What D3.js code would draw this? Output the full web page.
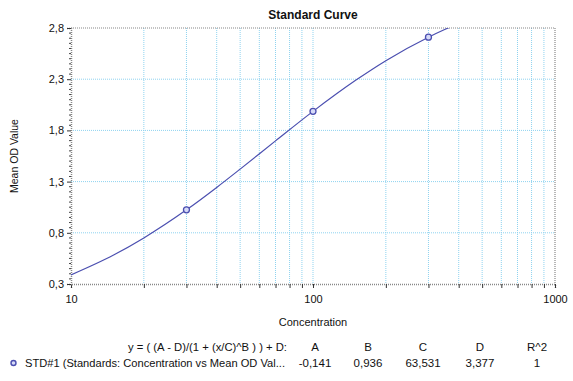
<!DOCTYPE html>
<html><head><meta charset="utf-8">
<script src="https://cdn.jsdelivr.net/npm/d3@7/dist/d3.min.js"></script>
<style>
body{margin:0;background:#fff;}
text{font-family:"Liberation Sans",Arial,sans-serif;fill:#111;}
</style></head>
<body><svg id="c" width="573" height="381"></svg>
<script>
// ---- data ----
const xTicks = [10, 100, 1000];
const xMinor = [20,30,40,50,60,70,80,90,200,300,400,500,600,700,800,900];
const yTicks = [0.3, 0.8, 1.3, 1.8, 2.3, 2.8];
const yTickLabels = ["0,3","0,8","1,3","1,8","2,3","2,8"];
const curveX = [10, 15, 20, 30, 40, 50, 70, 100, 150, 200, 300, 350, 370];
const curveY = [0.389, 0.583, 0.750, 1.024, 1.243, 1.422, 1.698, 1.986, 2.289, 2.481, 2.710, 2.785, 2.810];
const pointX = [30, 100, 300];
const pointY = [1.024, 1.986, 2.710];
const tableHeaders = ["A", "B", "C", "D", "R^2"];
const tableValues = ["-0,141", "0,936", "63,531", "3,377", "1"];
const equationLabel = "y = ( (A - D)/(1 + (x/C)^B ) ) + D:";
const seriesLabel = "STD#1 (Standards: Concentration vs Mean OD Val...";

const svg = d3.select("#c");
const L = 71, R = 555, T = 28, B = 284;
const x = d3.scaleLog().domain([10, 1000]).range([L, R]);
const y = d3.scaleLinear().domain([0.3, 2.8]).range([B, T]);
const gridCol = "#8fd3f0", axisCol = "#888";
const blue = "#4b4fb0";

// grid
const g = svg.append("g");
g.selectAll(".vx").data(xMinor.concat([100])).enter().append("line")
  .attr("x1", d => x(d)).attr("x2", d => x(d)).attr("y1", T).attr("y2", B)
  .attr("stroke", gridCol).attr("stroke-width", 1).attr("stroke-dasharray", "1,1");
g.selectAll(".hy").data(yTicks.slice(1, -1)).enter().append("line")
  .attr("x1", L).attr("x2", R).attr("y1", d => y(d)).attr("y2", d => y(d))
  .attr("stroke", gridCol).attr("stroke-width", 1).attr("stroke-dasharray", "1,1");

// border (dotted)
[[L,T,R,T],[R,T,R,B]].forEach(a => svg.append("line")
  .attr("x1",a[0]).attr("y1",a[1]).attr("x2",a[2]).attr("y2",a[3])
  .attr("stroke", axisCol).attr("stroke-width",1.2).attr("stroke-dasharray","1,1"));

// axes
const xAxis = svg.append("g").attr("transform", `translate(0,${B})`)
  .call(d3.axisBottom(x).tickValues(xTicks.concat(xMinor)).tickSize(4)
    .tickFormat(d => xTicks.includes(d) ? String(d) : ""));
const yAxis = svg.append("g").attr("transform", `translate(${L},0)`)
  .call(d3.axisLeft(y).tickValues(yTicks).tickSize(4)
    .tickFormat((d,i) => yTickLabels[i]));
const yMinor = d3.range(0, 51).map(i => 0.3 + i * 0.05).filter(v => !yTicks.some(t => Math.abs(t - v) < 1e-6));
svg.append("g").attr("transform", `translate(${L},0)`)
  .selectAll("line").data(yMinor).enter().append("line")
  .attr("x1", -2).attr("x2", 0).attr("y1", d => y(d)).attr("y2", d => y(d))
  .attr("stroke", "#444").attr("stroke-width", 1);
[xAxis, yAxis].forEach(a => {
  a.select(".domain").attr("stroke", axisCol).attr("stroke-width", 1.5).attr("stroke-dasharray", "1,1");
  a.selectAll(".tick line").attr("stroke", "#333");
  a.selectAll("text").attr("font-size", 11).attr("fill", "#111")
    .attr("font-family", "Liberation Sans, Arial, sans-serif");
});
xAxis.selectAll("text").attr("dy", "1.1em");

// curve
svg.append("clipPath").attr("id", "clip").append("rect")
  .attr("x", L).attr("y", T).attr("width", R - L).attr("height", B - T);
const line = d3.line().x(d => x(d[0])).y(d => y(d[1])).curve(d3.curveMonotoneX);
svg.append("path").datum(curveX.map((v, i) => [v, curveY[i]]))
  .attr("clip-path", "url(#clip)")
  .attr("d", line).attr("fill", "none").attr("stroke", blue).attr("stroke-width", 1.2);
svg.selectAll(".pt").data(pointX.map((v, i) => [v, pointY[i]])).enter().append("circle")
  .attr("cx", d => x(d[0])).attr("cy", d => y(d[1])).attr("r", 3)
  .attr("fill", "#d6daf8").attr("stroke", blue).attr("stroke-width", 1.3);

// titles
svg.append("text").attr("x", 313).attr("y", 19).attr("text-anchor", "middle")
  .attr("font-size", 12).attr("font-weight", "bold").text("Standard Curve");
svg.append("text").attr("x", 313).attr("y", 326).attr("text-anchor", "middle")
  .attr("font-size", 11).text("Concentration");
svg.append("text").attr("transform", "translate(18,156) rotate(-90)").attr("text-anchor", "middle")
  .attr("font-size", 10.5).text("Mean OD Value");

// table
const colX = [315, 368, 423, 480, 537];
svg.append("text").attr("x", 128).attr("y", 351)
  .attr("font-size", 11.5).attr("textLength", 159).attr("lengthAdjust", "spacingAndGlyphs")
  .text(equationLabel);
svg.selectAll(".th").data(tableHeaders).enter().append("text")
  .attr("x", (d, i) => colX[i]).attr("y", 351).attr("text-anchor", "middle")
  .attr("font-size", 11.5).text(d => d);
svg.append("circle").attr("cx", 13.5).attr("cy", 363).attr("r", 2.5)
  .attr("fill", "#d6daf8").attr("stroke", blue).attr("stroke-width", 1.4);
svg.append("text").attr("x", 25).attr("y", 367)
  .attr("font-size", 11.5).attr("textLength", 260).attr("lengthAdjust", "spacingAndGlyphs")
  .text(seriesLabel);
svg.selectAll(".tv").data(tableValues).enter().append("text")
  .attr("x", (d, i) => colX[i]).attr("y", 367).attr("text-anchor", "middle")
  .attr("font-size", 11.5).text(d => d);
</script></body></html>
